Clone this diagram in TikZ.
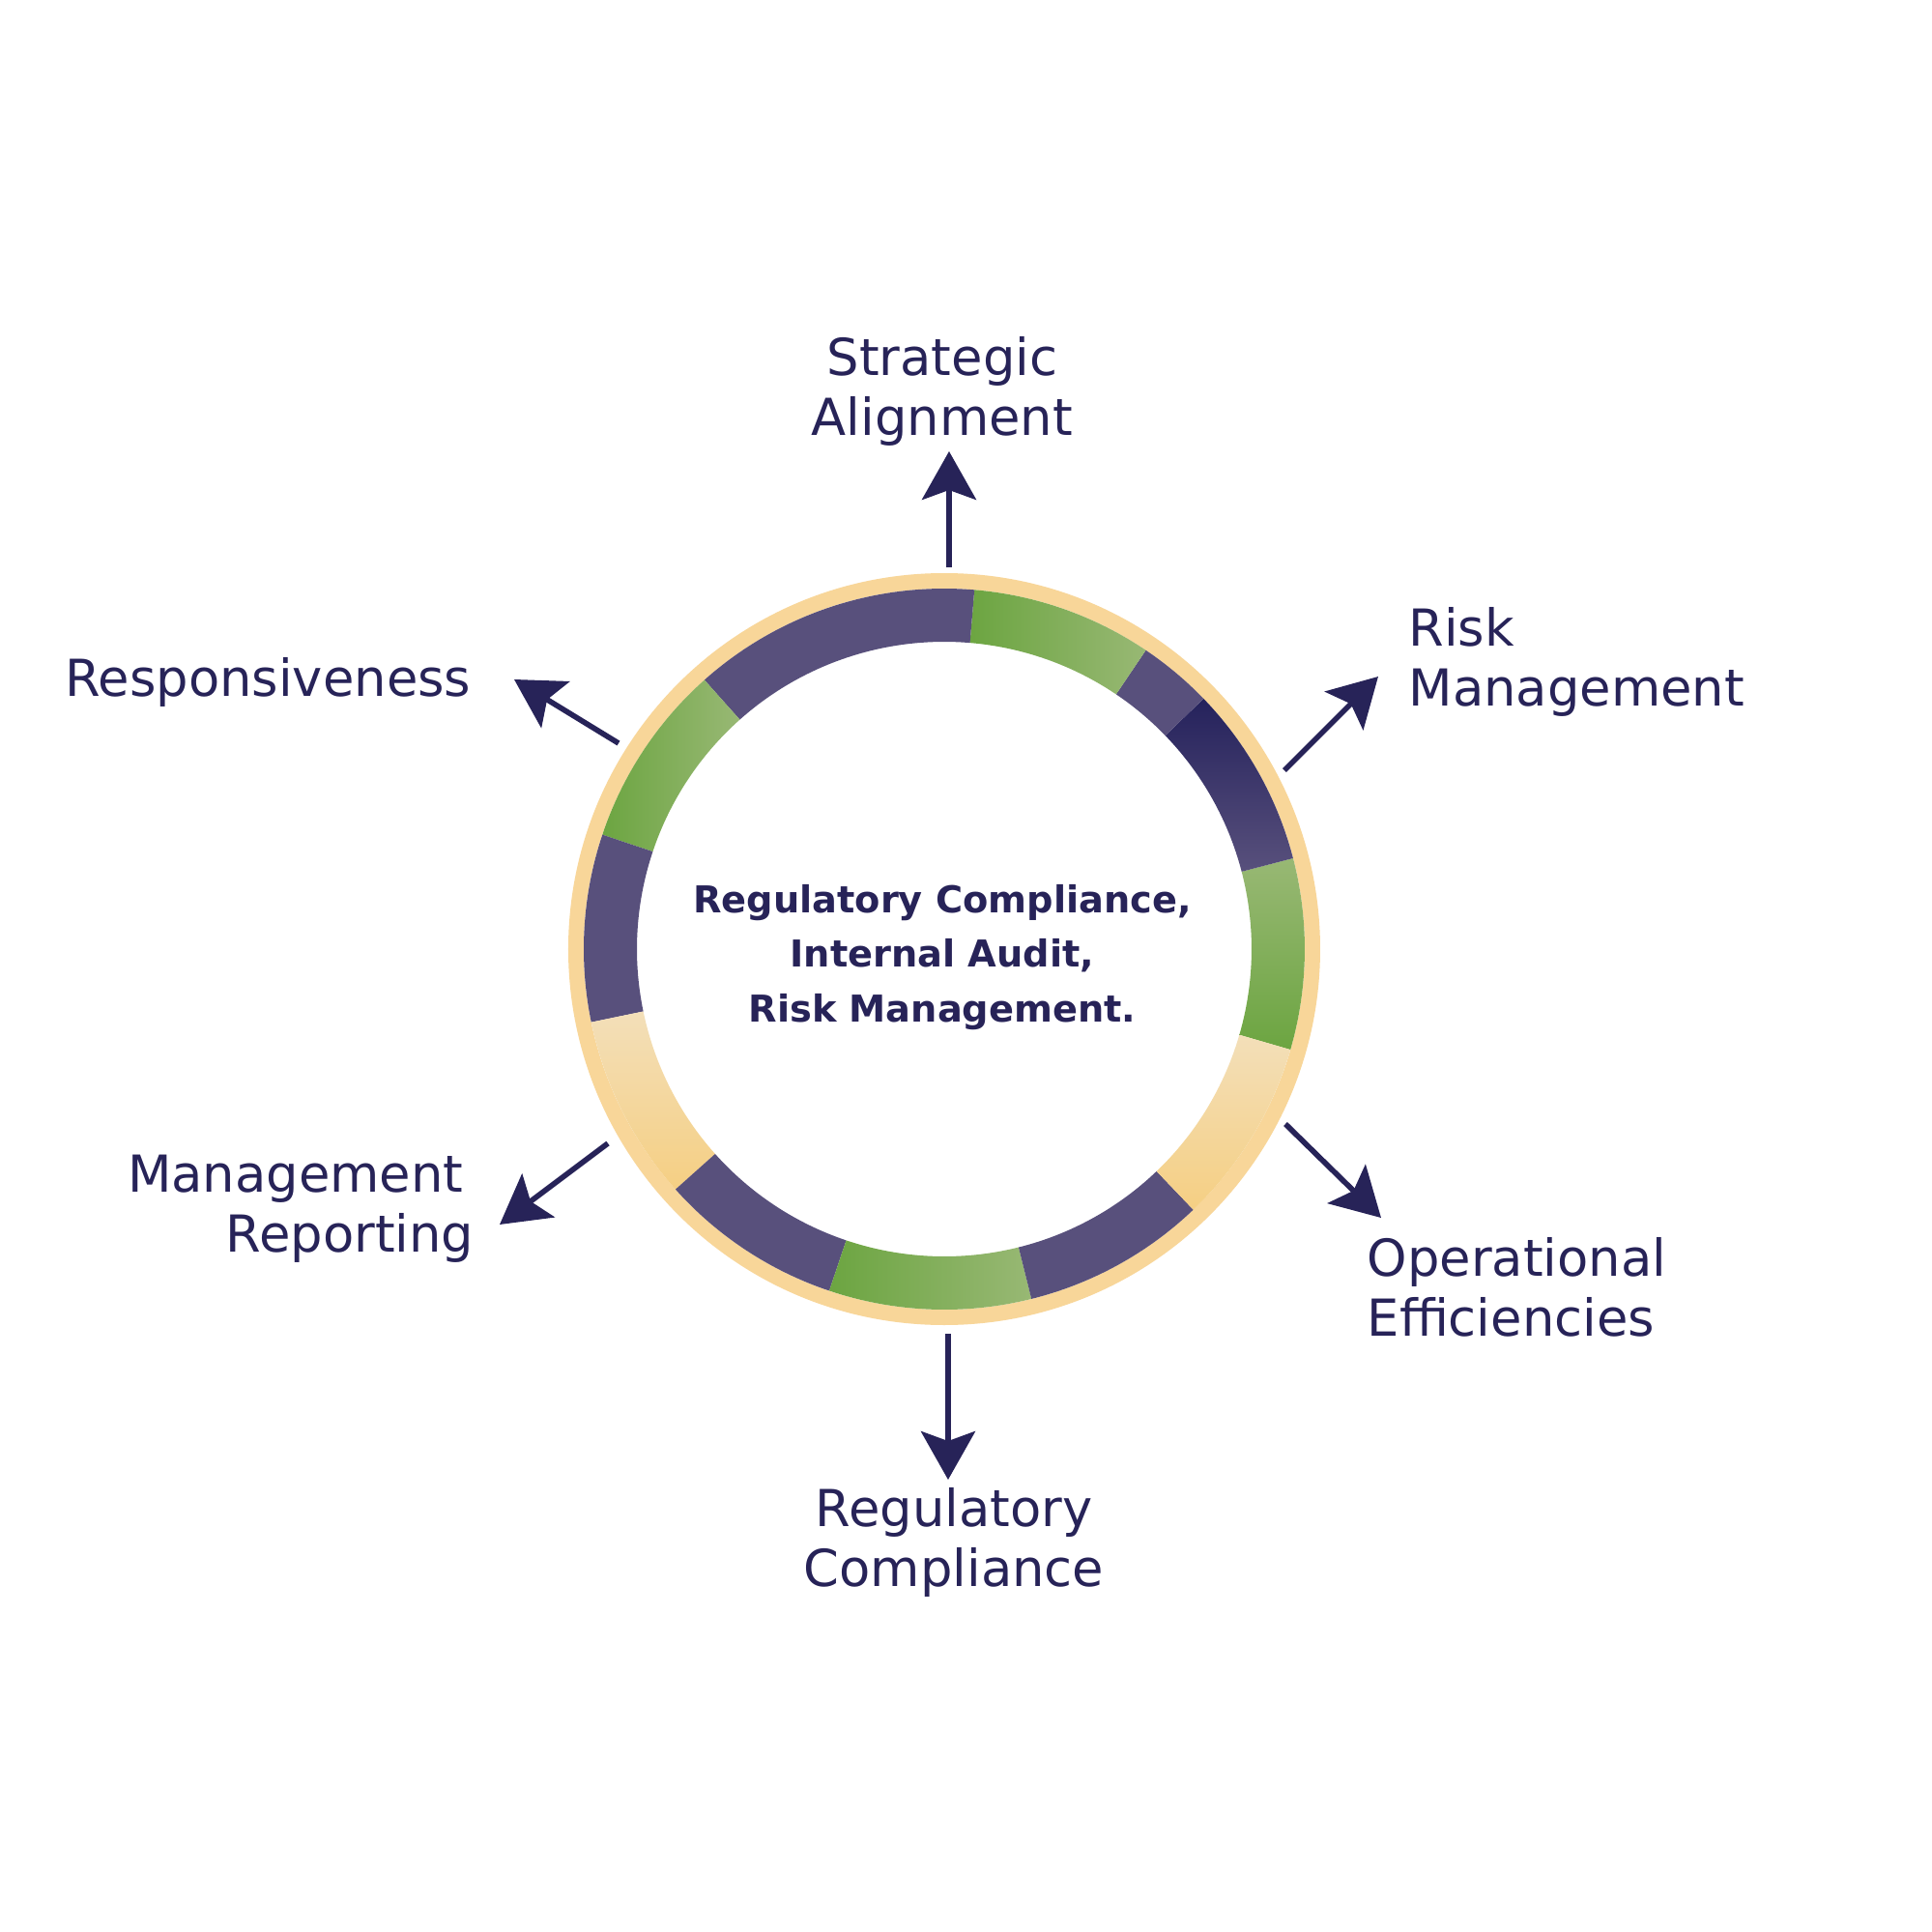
\documentclass[tikz,border=0pt]{standalone}
\usepackage{fontspec}
\setmainfont{DejaVu Sans}
\usetikzlibrary{arrows.meta}

\definecolor{ink}{HTML}{272358}
\definecolor{purp}{HTML}{58507C}
\definecolor{navy}{HTML}{25225C}
\definecolor{gdark}{HTML}{6CA541}
\definecolor{glight}{HTML}{98B874}
\definecolor{cream}{HTML}{F3DFB9}
\definecolor{yel}{HTML}{F5CF83}
\definecolor{ringyel}{HTML}{F8D699}

\tikzset{
    lbl/.style={text=ink, inner sep=0pt, font=\fontsize{15}{17.6}\selectfont},
    hub/.style={text=ink, inner sep=0pt, align=center, font=\bfseries\fontsize{10.9}{16}\selectfont},
    pointer/.style={ink, line width=1.6pt, -{Stealth[length=0.5cm, width=0.56cm, inset=0.1cm]}}
}

\begin{document}
\begin{tikzpicture}
    \useasboundingbox (-9.77,-10.17) rectangle (10.22,9.82);
    \fill[white] (-9.77,-10.17) rectangle (10.22,9.82);
    \draw[ringyel, line width=0.16cm] (0,0) circle (3.81cm);
    \shade[top color=glight, bottom color=gdark] (-16.2:3.73cm) arc (-16.2:14.6:3.73cm) -- (14.6:3.18cm) arc (14.6:-16.2:3.18cm) -- cycle;
    \shade[top color=navy, middle color=navy!80!purp, bottom color=purp] (14.6:3.73cm) arc (14.6:44:3.73cm) -- (44:3.18cm) arc (44:14.6:3.18cm) -- cycle;
    \fill[purp] (44:3.73cm) arc (44:56:3.73cm) -- (56:3.18cm) arc (56:44:3.18cm) -- cycle;
    \shade[left color=gdark, right color=glight] (56:3.73cm) arc (56:85.2:3.73cm) -- (85.2:3.18cm) arc (85.2:56:3.18cm) -- cycle;
    \fill[purp] (85.2:3.73cm) arc (85.2:131.7:3.73cm) -- (131.7:3.18cm) arc (131.7:85.2:3.18cm) -- cycle;
    \shade[left color=gdark, right color=glight] (131.7:3.73cm) arc (131.7:161.5:3.73cm) -- (161.5:3.18cm) arc (161.5:131.7:3.18cm) -- cycle;
    \fill[purp] (161.5:3.73cm) arc (161.5:191.7:3.73cm) -- (191.7:3.18cm) arc (191.7:161.5:3.18cm) -- cycle;
    \shade[top color=cream, bottom color=yel] (191.7:3.73cm) arc (191.7:221.8:3.73cm) -- (221.8:3.18cm) arc (221.8:191.7:3.18cm) -- cycle;
    \fill[purp] (221.8:3.73cm) arc (221.8:251.4:3.73cm) -- (251.4:3.18cm) arc (251.4:221.8:3.18cm) -- cycle;
    \shade[left color=gdark, right color=glight] (251.4:3.73cm) arc (251.4:284:3.73cm) -- (284:3.18cm) arc (284:251.4:3.18cm) -- cycle;
    \fill[purp] (284:3.73cm) arc (284:313.7:3.73cm) -- (313.7:3.18cm) arc (313.7:284:3.18cm) -- cycle;
    \shade[top color=cream, bottom color=yel] (313.7:3.73cm) arc (313.7:343.8:3.73cm) -- (343.8:3.18cm) arc (343.8:313.7:3.18cm) -- cycle;

    \node[hub, anchor=base] (core) at (-0.02,-0.75) {Regulatory Compliance,\\Internal Audit,\\Risk Management.};

    \node[lbl, align=center, anchor=base] (align) at (-0.02,5.32) {Strategic\\Alignment};
    \node[lbl, align=left, anchor=base west] (risk) at (4.80,2.52) {Risk\\Management};
    \node[lbl, align=left, anchor=base west] (oper) at (4.37,-4.00) {Operational\\Efficiencies};
    \node[lbl, align=center, anchor=base] (reg) at (0.10,-6.59) {Regulatory\\Compliance};
    \node[lbl, align=right, anchor=base east] (report) at (-4.86,-3.13) {Management\kern0.11cm\\Reporting};
    \node[lbl, anchor=base east] (resp) at (-4.89,2.62) {Responsiveness};

    \coordinate (align-s) at (0.05,3.95);
    \coordinate (align-e) at (0.05,5.15);
    \coordinate (risk-s) at (3.52,1.85);
    \coordinate (risk-e) at (4.49,2.82);
    \coordinate (oper-s) at (3.53,-1.81);
    \coordinate (oper-e) at (4.52,-2.78);
    \coordinate (reg-s) at (0.04,-3.98);
    \coordinate (reg-e) at (0.04,-5.49);
    \coordinate (report-s) at (-3.48,-2.01);
    \coordinate (report-e) at (-4.60,-2.85);
    \coordinate (resp-s) at (-3.37,2.13);
    \coordinate (resp-e) at (-4.45,2.79);

    \draw[pointer] (align-s) -- (align-e);
    \draw[pointer] (risk-s) -- (risk-e);
    \draw[pointer] (oper-s) -- (oper-e);
    \draw[pointer] (reg-s) -- (reg-e);
    \draw[pointer] (report-s) -- (report-e);
    \draw[pointer] (resp-s) -- (resp-e);
\end{tikzpicture}
\end{document}
